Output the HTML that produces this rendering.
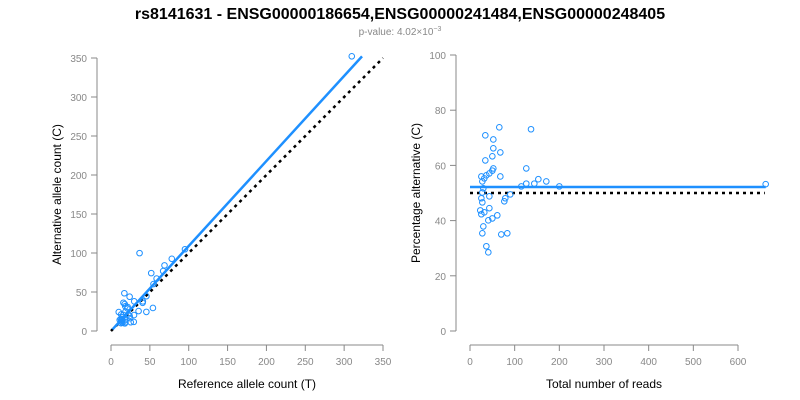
<!DOCTYPE html>
<html><head><meta charset="utf-8"><style>
body{margin:0;background:#fff;}
svg{display:block;font-family:"Liberation Sans",Arial,sans-serif;}
</style></head><body>
<svg id="c" width="800" height="400" viewBox="0 0 800 400">
<text x="400" y="19" text-anchor="middle" font-size="16" font-weight="bold">rs8141631 - ENSG00000186654,ENSG00000241484,ENSG00000248405</text>
<text x="400" y="35" text-anchor="middle" font-size="10" fill="#888">p-value: 4.02×10<tspan dy="-4" font-size="7">−3</tspan></text>
<g id="left"></g>
<g id="right"></g>
</svg>
<script>
// data: total reads and percentage alternative per sample
const totals=[65.6,136.6,34.3,52.2,52.2,67.9,50,34.3,52.2,126,50,43.3,36.6,25.4,67.9,32,27.6,153,170.8,126,144,114.9,200,29.8,27.6,90.2,43.3,25.4,79,76.8,27.6,43.3,23,32,25.4,61.1,50,41,29.8,27.6,70,83.5,36.6,41,662];
const pcts=[73.8,73.1,70.9,69.4,66.2,64.7,63.3,61.8,58.9,58.9,58.1,57.1,56.4,56,56,55.3,54.2,55,54.2,53.4,53.4,52.4,52.4,51.7,50.2,49.5,48.8,48.1,48.1,47,46.6,44.5,43.7,43,42.3,41.9,40.8,40.1,37.9,35.4,35,35.4,30.7,28.5,53.2];
const fitSlope=[1.09];
const leftTicks=[0,50,100,150,200,250,300,350];
const rightXTicks=[0,100,200,300,400,500,600];
const rightYTicks=[0,20,40,60,80,100];

const NS="http://www.w3.org/2000/svg";
function mk(p,t,a){const e=document.createElementNS(NS,t);for(const k in a)e.setAttribute(k,a[k]);p.appendChild(e);return e;}
const L=document.getElementById('left'),R=document.getElementById('right');
const lx=v=>111+v*272/350, ly=v=>331-v*273/350;
const rx=v=>470+v*268/600, ry=v=>331-v*2.76;
const gray="#888";

function axes(g,xs,ys,xt,yt,xlab,ylab,ylx,yax,xay,x0,x1,y0,y1){
  let e=mk(g,'line',{x1:xs(x0),x2:xs(x1),y1:xay,y2:xay,stroke:gray});
  
  e=mk(g,'line',{x1:yax,x2:yax,y1:ys(y0),y2:ys(y1),stroke:gray});
  
  xt.forEach(v=>{mk(g,'line',{x1:xs(v),x2:xs(v),y1:xay,y2:xay+6,stroke:gray});
    const t=mk(g,'text',{x:xs(v),y:xay+20,'text-anchor':'middle','font-size':10,fill:gray});t.textContent=v;
    });
  yt.forEach(v=>{mk(g,'line',{x1:yax-6,x2:yax,y1:ys(v),y2:ys(v),stroke:gray});
    const t=mk(g,'text',{x:yax-10,y:ys(v)+4,'text-anchor':'end','font-size':10,fill:gray});t.textContent=v;
    });
  let t=mk(g,'text',{x:(xs(x0)+xs(x1))/2,y:388,'text-anchor':'middle','font-size':12});t.textContent=xlab;
  
  const cy=(ys(y0)+ys(y1))/2;
  t=mk(g,'text',{x:ylx,y:cy,'text-anchor':'middle','font-size':12,transform:`rotate(-90 ${ylx} ${cy})`});t.textContent=ylab;
  
}
axes(L,lx,ly,leftTicks,leftTicks,'Reference allele count (T)','Alternative allele count (C)',61,97,345,0,350,0,350);
axes(R,rx,ry,rightXTicks,rightYTicks,'Total number of reads','Percentage alternative (C)',420,456,345,0,600,0,100);

// left: identity + fit lines
let e=mk(L,'line',{x1:lx(0),y1:ly(0),x2:lx(350),y2:ly(350),stroke:'#000','stroke-width':2.5,'stroke-dasharray':'3,4'});

e=mk(L,'line',{x1:lx(2),y1:ly(2*fitSlope[0]),x2:lx(323),y2:ly(323*fitSlope[0]),stroke:'#1e90ff','stroke-width':2.5});

// right lines
const fitPct=100*fitSlope[0]/(1+fitSlope[0]);
e=mk(R,'line',{x1:rx(0),y1:ry(50),x2:rx(660),y2:ry(50),stroke:'#000','stroke-width':2.5,'stroke-dasharray':'3,4'});

e=mk(R,'line',{x1:rx(0),y1:ry(fitPct),x2:rx(662),y2:ry(fitPct),stroke:'#1e90ff','stroke-width':2.5});


totals.forEach((tot,i)=>{
  const alt=tot*pcts[i]/100, ref=tot-alt;
  let c=mk(L,'circle',{cx:lx(ref),cy:ly(alt),r:2.8,fill:'none',stroke:'#1e90ff','stroke-width':1});
  
  c=mk(R,'circle',{cx:rx(tot),cy:ry(pcts[i]),r:2.8,fill:'none',stroke:'#1e90ff','stroke-width':1});
  
});
</script>
</body></html>
